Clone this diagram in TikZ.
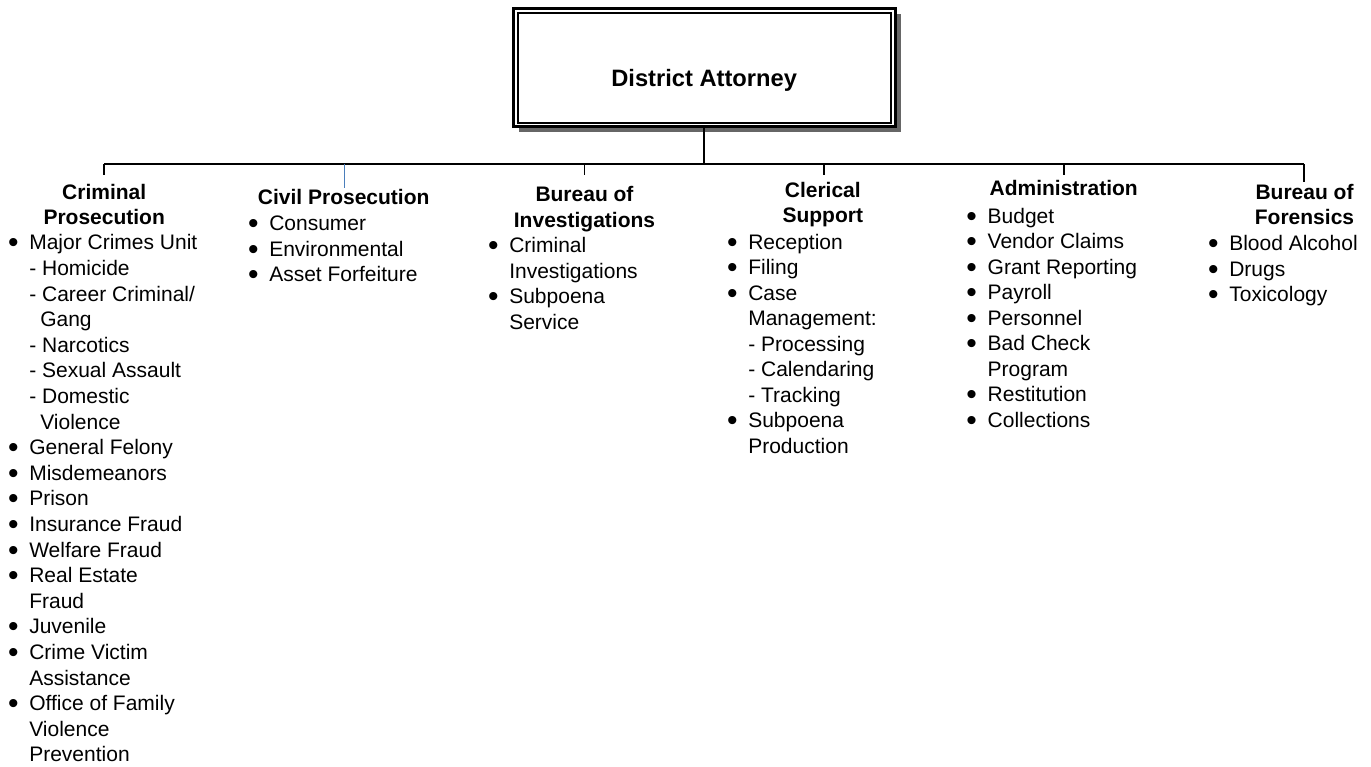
\documentclass[tikz,border=0pt]{standalone}
\usepackage{fontspec}
\setmainfont{Liberation Sans}
\usetikzlibrary{shadows}
\definecolor{linkblue}{RGB}{74,126,187}
\newcommand\bul{\leavevmode\llap{\makebox[0pt][c]{\raisebox{-3pt}{\fontsize{30}{30}\selectfont\char"2022}}\hspace*{16pt}}}
\newcommand\subind{\leavevmode\hspace*{11pt}}
\newcommand\hd[1]{\parbox[t]{220pt}{\centering\bfseries #1}}
\newcommand\bd[1]{\parbox[t]{220pt}{\raggedright #1}}
\begin{document}
\begin{tikzpicture}[x=1pt,y=-1pt,
  font=\fontsize{21}{25.5}\selectfont,
  every node/.style={inner sep=0pt, outer sep=0pt},
  dabox/.style={draw, line width=3pt, fill=white, minimum width=382.3pt,
    text height=77.7pt, text depth=40pt,
    font=\fontsize{23.7}{28}\selectfont\bfseries,
    drop shadow={shadow xshift=5.5pt, shadow yshift=-5.5pt, fill=black!60, opacity=1}},
  conn/.style={line width=2pt},
  dropline/.style={line width=1.4pt},
  head/.style={anchor=base},
  body/.style={anchor=base west}]
\useasboundingbox (0,0) rectangle (1371,767);

% top box
\node[dabox, anchor=base] (da) at (704.2,86.7) {District Attorney};
\draw[line width=2pt] ([shift={(5.3,4.5)}]da.north west) rectangle ([shift={(-4,-3.8)}]da.south east);

% connector coordinates
\coordinate (j) at (704.2,164);
\coordinate (t1) at (104,175);
\coordinate (t2) at (344.3,187.7);
\coordinate (t3) at (584.3,175);
\coordinate (t4) at (824,175);
\coordinate (t5) at (1064,175);
\coordinate (t6) at (1304,181.7);

\draw[conn] (da.south) -- (j);
\draw[conn] (t1 |- j) -- (t6 |- j);
\draw[dropline] (t1 |- j) -- (t1);
\draw[dropline, draw=linkblue] (t2 |- j) -- (t2);
\draw[dropline] (t3 |- j) -- (t3);
\draw[dropline] (t4 |- j) -- (t4);
\draw[dropline] (t5 |- j) -- (t5);
\draw[dropline] (t6 |- j) -- (t6);

% headings
\node[head] (h1) at (104.2,199.3) {\hd{Criminal\\Prosecution}};
\node[head] (h2) at (343.7,205) {\hd{Civil Prosecution}};
\node[head] (h3) at (584.5,201.7) {\hd{Bureau of\\Investigations}};
\node[head] (h4) at (822.8,197.3) {\hd{Clerical\\Support}};
\node[head] (h5) at (1063.7,196) {\hd{Administration}};
\node[head] (h6) at (1304.5,199.3) {\hd{Bureau of\\Forensics}};

% bodies
\node[body, font=\fontsize{21}{25.6}\selectfont] (b1) at (29.3,250) {\bd{\bul Major Crimes Unit\\
- Homicide\\
- Career Criminal/\\
\subind Gang\\
- Narcotics\\
- Sexual Assault\\
- Domestic\\
\subind Violence\\
\bul General Felony\\
\bul Misdemeanors\\
\bul Prison\\
\bul Insurance Fraud\\
\bul Welfare Fraud\\
\bul Real Estate\\
Fraud\\
\bul Juvenile\\
\bul Crime Victim\\
Assistance\\
\bul Office of Family\\
Violence\\
Prevention}};

\node[body] (b2) at (269.3,230.7) {\bd{\bul Consumer\\
\bul Environmental\\
\bul Asset Forfeiture}};

\node[body] (b3) at (509.3,252.7) {\bd{\bul Criminal\\
Investigations\\
\bul Subpoena\\
Service}};

\node[body] (b4) at (748.3,249.3) {\bd{\bul Reception\\
\bul Filing\\
\bul Case\\
Management:\\
- Processing\\
- Calendaring\\
- Tracking\\
\bul Subpoena\\
Production}};

\node[body] (b5) at (987.7,223.3) {\bd{\bul Budget\\
\bul Vendor Claims\\
\bul Grant Reporting\\
\bul Payroll\\
\bul Personnel\\
\bul Bad Check\\
Program\\
\bul Restitution\\
\bul Collections}};

\node[body] (b6) at (1229.3,250.7) {\bd{\bul Blood Alcohol\\
\bul Drugs\\
\bul Toxicology}};
\end{tikzpicture}
\end{document}
